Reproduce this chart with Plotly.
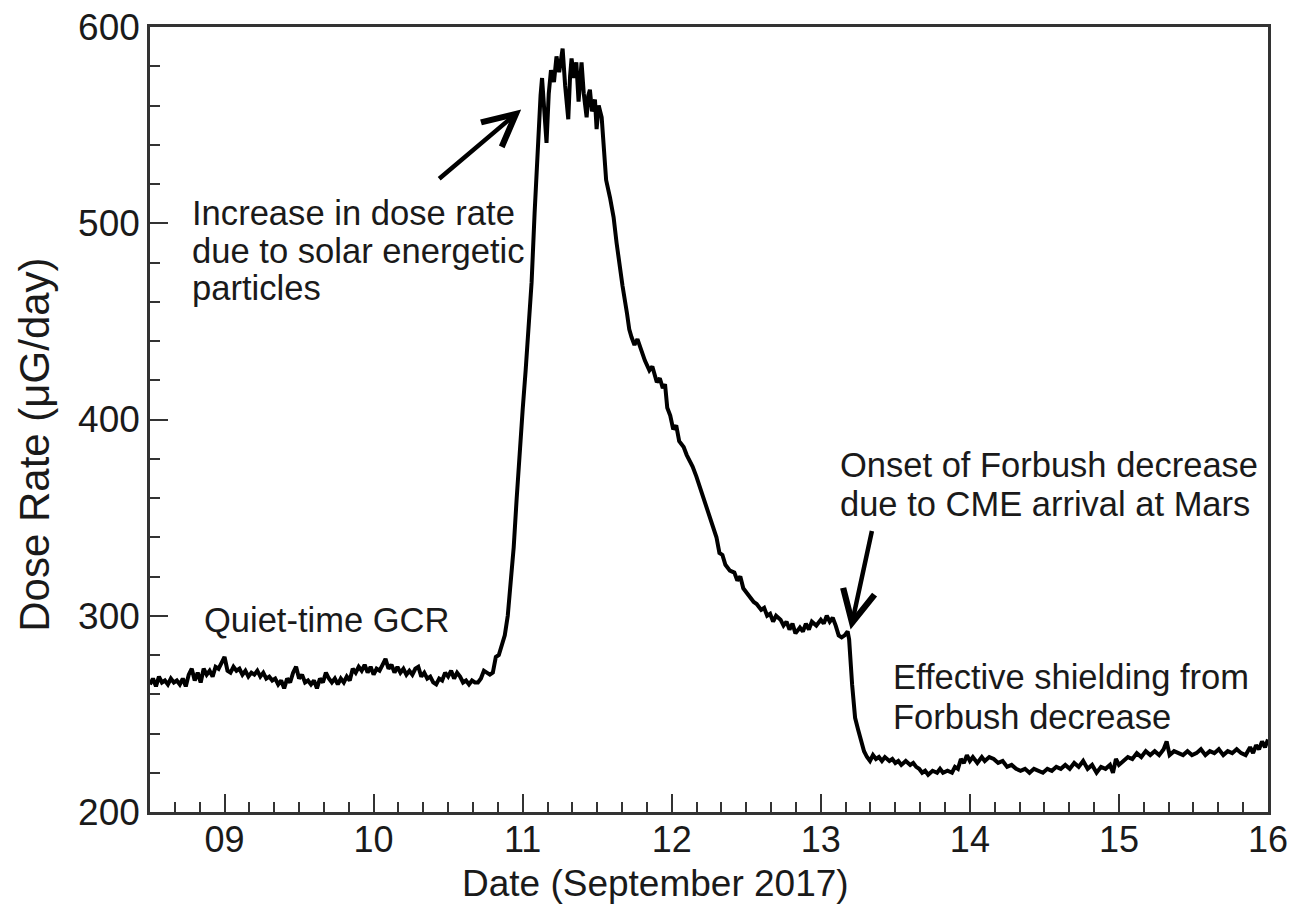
import plotly.graph_objects as go

# ---- data (day of September 2017, dose rate µGy/day)
days = [
    8.50, 8.52, 8.54, 8.56, 8.58, 8.60, 8.62, 8.64, 8.66, 8.68, 8.70, 8.72, 8.74, 8.76, 8.78, 8.80,
    8.82, 8.84, 8.86, 8.88, 8.90, 8.92, 8.94, 8.96, 8.98, 9.00, 9.02, 9.04, 9.06, 9.08, 9.10, 9.12,
    9.14, 9.16, 9.18, 9.20, 9.22, 9.24, 9.26, 9.28, 9.30, 9.32, 9.34, 9.36, 9.38, 9.40, 9.42, 9.44,
    9.46, 9.48, 9.50, 9.52, 9.54, 9.56, 9.58, 9.60, 9.62, 9.64, 9.66, 9.68, 9.70, 9.72, 9.74, 9.76,
    9.78, 9.80, 9.82, 9.84, 9.86, 9.88, 9.90, 9.92, 9.94, 9.96, 9.98, 10.00, 10.02, 10.04, 10.06,
    10.08, 10.10, 10.12, 10.14, 10.16, 10.18, 10.20, 10.22, 10.24, 10.26, 10.28, 10.30, 10.32,
    10.34, 10.36, 10.38, 10.40, 10.42, 10.44, 10.46, 10.48, 10.50, 10.52, 10.54, 10.56, 10.58,
    10.60, 10.62, 10.64, 10.66, 10.68, 10.70, 10.72, 10.74, 10.76, 10.78, 10.80, 10.82, 10.84,
    10.86, 10.88,
    10.90, 10.92, 10.94, 10.96, 10.98, 11.00, 11.02, 11.04, 11.06, 11.08, 11.10, 11.12, 11.13,
    11.145, 11.16, 11.175, 11.19, 11.21, 11.227, 11.245, 11.268, 11.285, 11.306, 11.318, 11.328,
    11.345, 11.36, 11.375, 11.395, 11.41, 11.429, 11.44, 11.451, 11.465, 11.485, 11.496, 11.51,
    11.53, 11.545, 11.56, 11.586, 11.61, 11.63, 11.65, 11.67, 11.70, 11.715, 11.73, 11.75, 11.77,
    11.80, 11.82, 11.85, 11.87, 11.90, 11.92, 11.94, 11.955, 11.97, 11.99, 12.01, 12.03, 12.05,
    12.08, 12.10, 12.12, 12.14, 12.165, 12.19, 12.215, 12.24, 12.26, 12.28, 12.30, 12.32, 12.34,
    12.36, 12.39, 12.42, 12.44, 12.46, 12.48, 12.50, 12.52, 12.55, 12.57, 12.60, 12.62, 12.64,
    12.66, 12.68, 12.70, 12.73, 12.75, 12.77, 12.79, 12.81, 12.83, 12.86, 12.88, 12.90, 12.92,
    12.94, 12.97, 13.00, 13.02, 13.04, 13.06, 13.08, 13.10, 13.12, 13.14, 13.16, 13.18, 13.19,
    13.21, 13.23, 13.25, 13.27, 13.29, 13.31, 13.33, 13.35, 13.37, 13.39, 13.41, 13.43, 13.46,
    13.48, 13.50, 13.52, 13.54, 13.57, 13.60, 13.62, 13.64, 13.66, 13.68, 13.70, 13.72, 13.75,
    13.78, 13.80, 13.82, 13.85, 13.88, 13.90, 13.92, 13.94, 13.96, 13.98, 14.00, 14.02, 14.05,
    14.08, 14.10, 14.13, 14.16, 14.19, 14.22, 14.25, 14.28, 14.31, 14.34, 14.37, 14.40, 14.43,
    14.46, 14.49, 14.52, 14.55, 14.58, 14.61, 14.64, 14.67, 14.70, 14.73, 14.76, 14.79, 14.82,
    14.85, 14.88, 14.91, 14.94, 14.96, 14.98, 15.00, 15.03, 15.06, 15.09, 15.12, 15.15, 15.18,
    15.21, 15.24, 15.27, 15.30, 15.32, 15.34, 15.37, 15.40, 15.43, 15.46, 15.49, 15.52, 15.55,
    15.58, 15.61, 15.64, 15.67, 15.70, 15.73, 15.76, 15.79, 15.82, 15.85, 15.88, 15.90, 15.92,
    15.94, 15.96, 15.98, 16.00,
]
dose_rate = [
    265, 268, 264, 269, 266, 267, 265, 268, 266, 267, 265, 268, 264, 270, 273, 267,
    271, 266, 273, 270, 272, 269, 274, 273, 276, 279, 272, 271, 274, 272, 273, 270,
    272, 269, 271, 270, 272, 269, 271, 268, 269, 267, 268, 265, 267, 263, 268, 266,
    271, 274, 268, 270, 266, 267, 265, 267, 263, 268, 266, 271, 268, 266, 268, 265,
    268, 266, 269, 267, 273, 271, 274, 272, 275, 271, 274, 270, 273, 272, 275,
    278, 273, 275, 271, 274, 271, 273, 270, 272, 270, 273, 274, 269,
    271, 268, 269, 266, 265, 268, 267, 271, 269, 272, 268, 271, 269,
    266, 267, 265, 267, 266, 266, 268, 272, 271, 270, 271, 279, 280,
    285, 290,
    300, 315, 335, 360, 385, 405, 425, 445, 470, 505, 540, 565, 574,
    555, 541, 566, 578, 572, 585, 577, 589, 570, 553, 575, 584,
    574, 582, 562, 582, 566, 554, 565, 568, 557, 563, 548, 560,
    554, 535, 522, 513, 503, 490, 478, 468, 454, 446, 442, 438, 441,
    434, 430, 425, 427, 419, 421, 416, 418, 406, 402, 395, 397, 389,
    386, 382, 379, 376, 371, 365, 360, 354, 349, 344, 340, 332, 331,
    326, 323, 322, 318, 320, 314, 312, 310, 307, 306, 303, 304, 300,
    301, 297, 300, 298, 295, 297, 293, 296, 291, 294, 292, 296, 293,
    297, 295, 298, 296, 300, 297, 299, 295, 290, 289, 290, 292, 288,
    265, 248, 242, 236, 231, 228, 226, 229, 227, 228, 226, 228, 226,
    227, 225, 226, 224, 226, 224, 225, 223, 222, 220, 221, 219, 221,
    220, 222, 220, 221, 220, 223, 222, 227, 225, 229, 226, 228, 225,
    228, 226, 228, 227, 225, 226, 223, 224, 222, 221, 222, 220, 222,
    221, 220, 222, 221, 223, 222, 224, 222, 225, 223, 226, 222, 224,
    220, 223, 222, 224, 220, 227, 224, 226, 228, 227, 230, 228, 231,
    229, 231, 229, 232, 236, 229, 231, 230, 229, 231, 229, 230, 232,
    229, 231, 230, 232, 229, 231, 230, 232, 230, 229, 233, 230, 234,
    232, 236, 233, 237,
]

x_tick_vals = [9, 10, 11, 12, 13, 14, 15, 16]
x_tick_text = ["09", "10", "11", "12", "13", "14", "15", "16"]
y_tick_vals = [200, 300, 400, 500, 600]

FONT = "Liberation Sans, Arial, sans-serif"
INK = "#1a1a1a"

fig = go.Figure()
fig.add_trace(go.Scatter(
    x=days, y=dose_rate, mode="lines",
    line=dict(color="black", width=4),
    showlegend=False, hoverinfo="skip",
))

def label(text, x, y, size=34.5):
    fig.add_annotation(x=x, y=y, xref="x", yref="y", text=text, showarrow=False,
                       xanchor="left", yanchor="middle",
                       font=dict(family=FONT, size=size, color=INK))

# SEP annotation (three lines)
label("Increase in dose rate", 8.77, 505, 34.6)
label("due to solar energetic", 8.77, 486, 34.6)
label("particles", 8.77, 467, 34.6)
# Quiet time
label("Quiet-time GCR", 8.85, 298)
# Forbush onset
label("Onset of Forbush decrease", 13.115, 377)
label("due to CME arrival at Mars", 13.115, 357)
# Shielding
label("Effective shielding from", 13.47, 269)
label("Forbush decrease", 13.47, 248.5)

# axis titles (placed where the reference shows them)
fig.add_annotation(x=0.452, y=-0.091, xref="paper", yref="paper", text="Date (September 2017)",
                   showarrow=False, xanchor="center", yanchor="middle",
                   font=dict(family=FONT, size=37, color=INK))
fig.add_annotation(x=-0.104, y=0.4675, xref="paper", yref="paper", text="Dose Rate (μG/day)",
                   showarrow=False, xanchor="center", yanchor="middle", textangle=-90,
                   font=dict(family=FONT, size=42, color=INK))

# arrows
fig.add_annotation(x=10.99, y=558, ax=10.43, ay=522, xref="x", yref="y",
                   axref="x", ayref="y", text="", showarrow=True,
                   arrowhead=5, arrowsize=1.4, arrowwidth=4.5, arrowcolor="black")
fig.add_annotation(x=13.2, y=293, ax=13.345, ay=344, xref="x", yref="y",
                   axref="x", ayref="y", text="", showarrow=True,
                   arrowhead=5, arrowsize=1.4, arrowwidth=4.5, arrowcolor="black")

fig.update_xaxes(
    range=[8.5, 16], tickvals=x_tick_vals, ticktext=x_tick_text,
    ticks="inside", ticklen=18, tickwidth=2, tickcolor="#333",
    minor=dict(dtick=1/6, tick0=9, ticks="inside", ticklen=10, tickwidth=2, tickcolor="#333"),
    showline=True, linecolor="#333", linewidth=2.5, mirror=True,
    showgrid=False, zeroline=False, automargin=False,
    tickfont=dict(family=FONT, size=36, color=INK), ticklabelstandoff=-6,
)
fig.update_yaxes(
    range=[200, 600], tickvals=y_tick_vals,
    ticks="inside", ticklen=18, tickwidth=2, tickcolor="#333",
    minor=dict(dtick=20, ticks="inside", ticklen=10, tickwidth=2, tickcolor="#333"),
    showline=True, linecolor="#333", linewidth=2.5, mirror=True,
    showgrid=False, zeroline=False, automargin=False,
    tickfont=dict(family=FONT, size=37, color=INK),
)

fig.update_layout(
    width=1291, height=907,
    margin=dict(l=150, r=23, t=27, b=95),
    paper_bgcolor="white", plot_bgcolor="white",
)

fig.write_html("out.html", config={"displayModeBar": False})
